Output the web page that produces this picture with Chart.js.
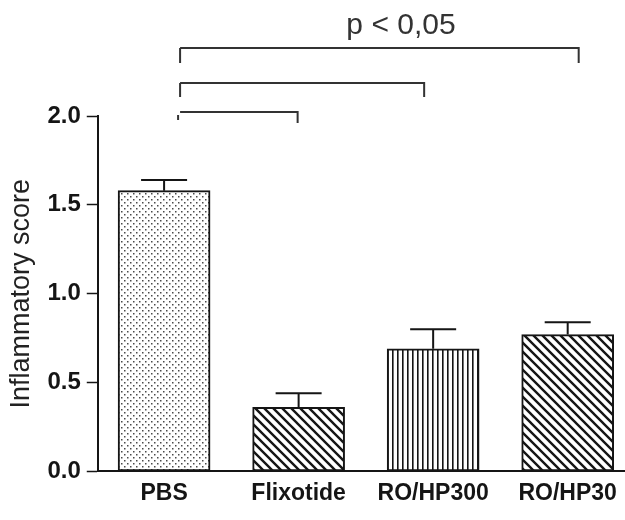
<!DOCTYPE html>
<html>
<head>
<meta charset="utf-8">
<script src="https://cdn.jsdelivr.net/npm/chart.js@4.4.1/dist/chart.umd.min.js"></script>
<style>
    html, body { margin: 0; padding: 0; background: #fff; }
    #wrap { width: 625px; height: 520px; }
</style>
</head>
<body>
<div id="wrap"><canvas id="scoreChart"></canvas></div>
<script>
    // values
    var groups = ['PBS', 'Flixotide', 'RO/HP300', 'RO/HP30'];
    var scores = [1.58, 0.36, 0.69, 0.77];
    var scoreErrors = [0.06, 0.08, 0.11, 0.07];
    var yTicks = [0, 0.5, 1.0, 1.5, 2.0];
    var sigPairs = [[0, 3], [0, 2], [0, 1]];
    var sigLabel = 'p < 0,05';

    var FONT = "'Liberation Sans', Arial, Helvetica, sans-serif";
    var INK = '#151515';

    // bracket drawing tweaks (px)
    var bracketY = [48, 83, 112];
    var bracketDrop = [15, 14, 11];
    var bracketLeftShift = [16, 16, 16];
    var bracketRightShift = [11, -9, -1];

    function makePattern(kind) {
        var c = document.createElement('canvas');
        var g = c.getContext('2d');
        var s;
        if (kind === 'dots') {
            s = 6;
            c.width = s; c.height = s;
            g.fillStyle = '#fff';
            g.fillRect(0, 0, s, s);
            g.fillStyle = '#4a4a4a';
            g.fillRect(1, 1, 1.5, 1.5);
            g.fillRect(4, 4, 1.5, 1.5);
        } else if (kind === 'diag') {
            s = 9;
            c.width = s; c.height = s;
            g.fillStyle = '#fff';
            g.fillRect(0, 0, s, s);
            g.strokeStyle = INK;
            g.lineWidth = 2.4;
            g.beginPath();
            g.moveTo(-1, -1); g.lineTo(s + 1, s + 1);
            g.moveTo(-2, s - 2); g.lineTo(2, s + 2);
            g.moveTo(s - 2, -2); g.lineTo(s + 2, 2);
            g.stroke();
        } else {
            s = 5;
            c.width = s; c.height = s;
            g.fillStyle = '#fff';
            g.fillRect(0, 0, s, s);
            g.fillStyle = INK;
            g.fillRect(2, 0, 1.6, s);
        }
        return g.createPattern(c, 'repeat');
    }

    var fills = [makePattern('dots'), makePattern('diag'), makePattern('vert'), makePattern('diag')];

    var errorBarPlugin = {
        id: 'errorBars',
        afterDatasetsDraw: function (chart) {
            var ctx = chart.ctx, xs = chart.scales.x, ys = chart.scales.y;
            ctx.save();
            ctx.strokeStyle = INK;
            ctx.lineWidth = 2;
            scores.forEach(function (v, i) {
                var cx = xs.getPixelForValue(i);
                var top = ys.getPixelForValue(v);
                var cap = ys.getPixelForValue(v + scoreErrors[i]);
                ctx.beginPath();
                ctx.moveTo(cx, top);
                ctx.lineTo(cx, cap);
                ctx.moveTo(cx - 23, cap);
                ctx.lineTo(cx + 23, cap);
                ctx.stroke();
            });
            ctx.restore();
        }
    };

    var bracketPlugin = {
        id: 'sigBrackets',
        afterDraw: function (chart) {
            var ctx = chart.ctx, xs = chart.scales.x;
            ctx.save();
            ctx.strokeStyle = '#333';
            ctx.lineWidth = 2;
            sigPairs.forEach(function (pair, k) {
                var x1 = xs.getPixelForValue(pair[0]) + bracketLeftShift[k];
                var x2 = xs.getPixelForValue(pair[1]) + bracketRightShift[k];
                var yy = bracketY[k];
                ctx.beginPath();
                if (k === 2) {
                    ctx.moveTo(x1 - 2, yy + 3); ctx.lineTo(x1 - 2, yy + 8);
                } else {
                    ctx.moveTo(x1, yy + bracketDrop[k]); ctx.lineTo(x1, yy);
                }
                ctx.moveTo(x1, yy);
                ctx.lineTo(x2, yy);
                ctx.lineTo(x2, yy + bracketDrop[k]);
                ctx.stroke();
            });
            ctx.fillStyle = '#333';
            ctx.font = '30px ' + FONT;
            ctx.textAlign = 'center';
            ctx.textBaseline = 'middle';
            ctx.fillText(sigLabel, 401, 26);
            ctx.restore();
        }
    };

    var ctxEl = document.getElementById('scoreChart').getContext('2d');
    var chart = new Chart(ctxEl, {
        type: 'bar',
        data: {
            datasets: [{
                data: scores.map(function (v, i) { return {x: i, y: v}; }),
                backgroundColor: fills,
                borderColor: INK,
                borderWidth: 2,
                borderSkipped: false,
                barThickness: 92
            }]
        },
        options: {
            responsive: true,
            maintainAspectRatio: false,
            animation: false,
            layout: {padding: {top: 116, right: 0, bottom: 5, left: 5}},
            plugins: {legend: {display: false}, tooltip: {enabled: false}},
            scales: {
                x: {
                    type: 'linear',
                    offset: false,
                    min: -0.493,
                    max: 3.426,
                    grid: {display: false, drawTicks: false},
                    border: {display: true, color: INK, width: 2},
                    afterBuildTicks: function (axis) {
                        axis.ticks = groups.map(function (g, i) { return {value: i}; });
                    },
                    ticks: {
                        autoSkip: false,
                        maxRotation: 0,
                        padding: 8,
                        color: INK,
                        font: {family: FONT, size: 23, weight: 'bold'},
                        callback: function (v) { return groups[v]; }
                    }
                },
                y: {
                    min: 0,
                    max: 2,
                    afterBuildTicks: function (axis) {
                        axis.ticks = yTicks.map(function (t) { return {value: t}; });
                    },
                    grid: {drawOnChartArea: false, tickLength: 11, tickColor: INK, tickWidth: 1.5},
                    border: {display: true, color: INK, width: 2},
                    ticks: {
                        padding: 6,
                        color: INK,
                        font: {family: FONT, size: 24, weight: 'bold'},
                        callback: function (v) { return v.toFixed(1); }
                    },
                    title: {
                        display: true,
                        text: 'Inflammatory score',
                        color: '#222',
                        padding: {top: 0, bottom: 4},
                        font: {family: FONT, size: 27}
                    }
                }
            }
        },
        plugins: [errorBarPlugin, bracketPlugin]
    });
</script>
</body>
</html>
